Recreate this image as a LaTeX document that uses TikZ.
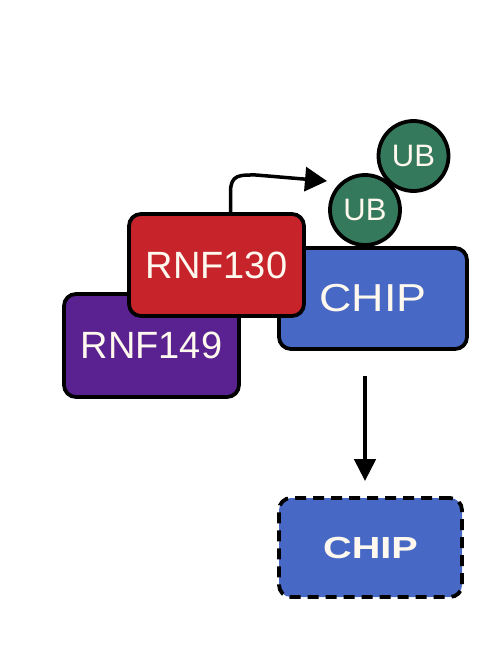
\documentclass[tikz,border=0pt]{standalone}
\usepackage{fontspec}
\setmainfont{Liberation Sans}
\usetikzlibrary{arrows.meta}
\definecolor{cpurple}{HTML}{5A2290}
\definecolor{cred}{HTML}{C6232B}
\definecolor{cblue}{HTML}{4768C4}
\definecolor{cgreen}{HTML}{35795C}
\definecolor{ctext}{HTML}{FFF8EE}
\tikzset{
  box/.style={draw=black, line width=3.8pt, rounded corners=12pt, text=ctext, inner sep=0pt},
  ub/.style={circle, draw=black, line width=3.8pt, fill=cgreen, text=ctext, minimum size=70pt, inner sep=0pt, font=\fontsize{31}{31}\selectfont},
  arr/.style={line width=3.5pt, -{Triangle[length=22pt,width=24pt]}},
  darr/.style={line width=4.5pt, -{Triangle[length=22pt,width=21pt]}},
}
\begin{document}
\begin{tikzpicture}[x=1pt,y=-1pt]
\useasboundingbox (0,0) rectangle (485,650);
\node[box, fill=cblue, minimum width=188pt, minimum height=101pt, font=\fontsize{39}{39}\selectfont] (chip) at (373,298.5) {\scalebox{1.15}[1]{CHIP}};
\node[box, fill=cpurple, minimum width=175pt, minimum height=103pt, font=\fontsize{38}{38}\selectfont] (rnf149) at (151.5,345.5) {RNF149};
\node[box, fill=cred, minimum width=175pt, minimum height=102pt, font=\fontsize{38}{38}\selectfont] (rnf130) at (216.5,265) {RNF130};
\node[ub] (ub2) at (413.5,156) {UB};
\node[ub] (ub1) at (365,210) {UB};
\node[box, fill=cblue, dash pattern=on 11pt off 7pt, minimum width=183pt, minimum height=99pt, font=\bfseries\fontsize{30.5}{30.5}\selectfont] (chip2) at (370.5,547.5) {\scalebox{1.3}[1]{CHIP}};
\coordinate (ubtarget) at (327,181);
\draw[arr] (rnf130.north) ++(14,0) -- ++(0,-20) .. controls ++(0,-18) and (240,175) .. (256,175) -- (ubtarget);
\draw[darr] ([shift={(-8,25)}]chip.south) -- ([shift={(-5.5,-15)}]chip2.north);
\end{tikzpicture}
\end{document}
